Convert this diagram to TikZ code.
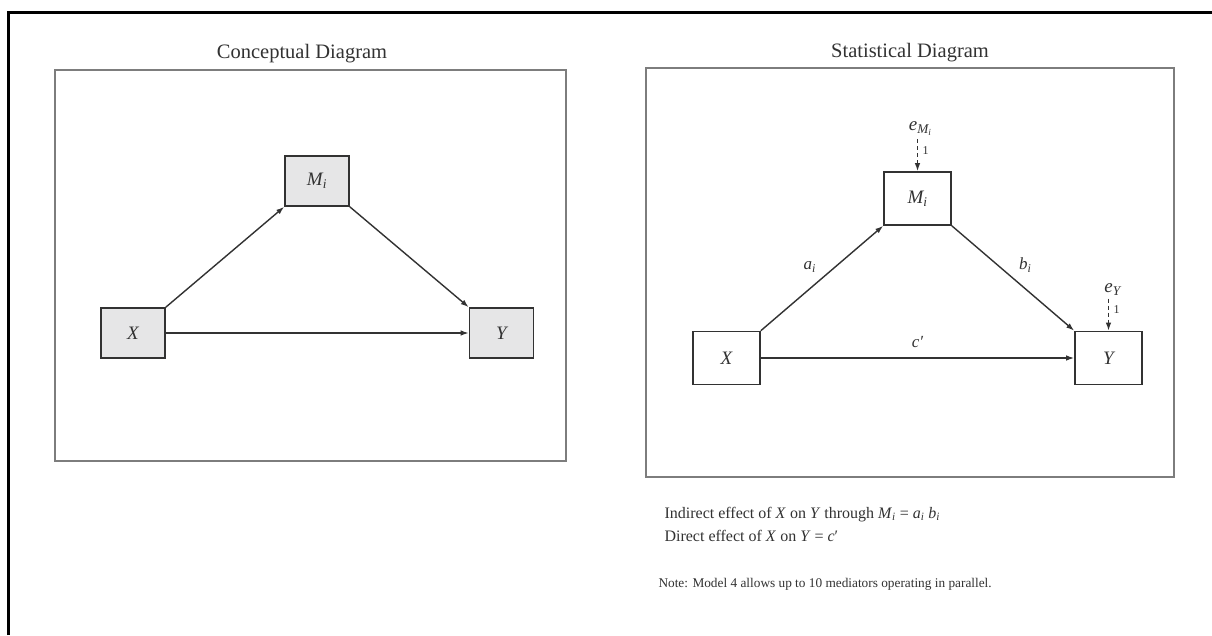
\documentclass[tikz,border=0pt]{standalone}
\usepackage{fontspec}
\setmainfont{Liberation Serif}
\usetikzlibrary{arrows.meta,positioning}
\definecolor{panelgray}{RGB}{125,125,125}
\definecolor{nodefill}{RGB}{230,230,231}
\definecolor{inkgray}{RGB}{50,50,50}
\newcommand{\sub}[2]{\textit{#1}\textsubscript{\textit{#2}}}
\tikzset{%
  font=\fontsize{16}{19}\selectfont, >={Latex[length=8pt,width=5.5pt]},
  panel/.style    = { draw=panelgray, line width=1.8pt },
  paneltitle/.style = { font=\fontsize{20.5}{24}\selectfont, anchor=base, text=inkgray },
  block/.style    = { rectangle, draw=inkgray, line width=1.6pt, inner sep=0pt,
                      font=\fontsize{19}{21}\selectfont\itshape, text=inkgray },
  cblock/.style   = { block, fill=nodefill, minimum width=64pt, minimum height=50pt },
  sblock/.style   = { block, fill=white, minimum width=67pt, minimum height=53pt },
  link/.style     = { draw=inkgray, line width=1.4pt, -> },
  errlink/.style  = { draw=inkgray, line width=1.4pt, dash pattern=on 4pt off 3pt, -> },
  coef/.style     = { font=\fontsize{17}{19}\selectfont\itshape, text=inkgray },
  one/.style      = { font=\fontsize{12}{13}\selectfont, text=inkgray },
  caption/.style  = { anchor=base west, text=inkgray }
}
\begin{document}
\begin{tikzpicture}[x=1pt,y=-1pt]
	\useasboundingbox (0,0) rectangle (1212,635);
	\fill[white] (0,0) rectangle (1212,635);
	\draw[line width=3pt] (8,635) -- (8,12) -- (1212,12);
	
	% conceptual diagram
	\node[paneltitle] (ctitle) at (302,58) {Conceptual Diagram};
	\draw[panel] (55,70) rectangle (566,461);
	\node[cblock] (cM) at (317,181) {\sub{M}{i}};
	\node[cblock] (cX) at (133,333) {X};
	\node[cblock] (cY) at (501.5,333) {Y};
	\draw[link] (cX.north east) -- (cM.south west);
	\draw[link] (cM.south east) -- (cY.north west);
	\draw[link] (cX) -- (cY);
	
	% statistical diagram
	\node[paneltitle] (stitle) at (910,57) {Statistical Diagram};
	\draw[panel] (646,68) rectangle (1174,477);
	\node[sblock] (sM) at (917.5,198.5) {\sub{M}{i}};
	\node[sblock] (sX) at (726.5,358) {X};
	\node[sblock] (sY) at (1108.5,358) {Y};
	\node[coef, font=\fontsize{19}{20}\selectfont\itshape] (eM) [above=32pt of sM, xshift=3pt] {\textit{e}\textsubscript{\sub{M}{i}}};
	\node[coef, font=\fontsize{19}{20}\selectfont\itshape] (eY) [above=32pt of sY, xshift=4pt] {\sub{e}{Y}};
	
	\draw[link] (sX.north east) -- node[coef, above left=3pt] {\sub{a}{i}} (sM.south west);
	\draw[link] (sM.south east) -- node[coef, above right=3pt] {\sub{b}{i}} (sY.north west);
	\draw[link] (sX) -- node[coef, above=6pt] {\textit{c}′} (sY);
	\draw[errlink] (eM.south -| sM.north) -- node[one, pos=.35, right=1pt] {1} (sM.north);
	\draw[errlink] (eY.south -| sY.north) -- node[one, pos=.35, right=1pt] {1} (sY.north);
	
	\node[caption] (indirect) at (661,518) {Indirect effect of \textit{X} on \textit{Y} through \sub{M}{i} = \sub{a}{i} \sub{b}{i}};
	\node[caption] (direct) at (661,541) {Direct effect of \textit{X} on \textit{Y} = \textit{c}′};
	\node[caption, font=\fontsize{13.3}{15}\selectfont] (note) at (655,587) {Note: Model 4 allows up to 10 mediators operating in parallel.};
\end{tikzpicture}
\end{document}
